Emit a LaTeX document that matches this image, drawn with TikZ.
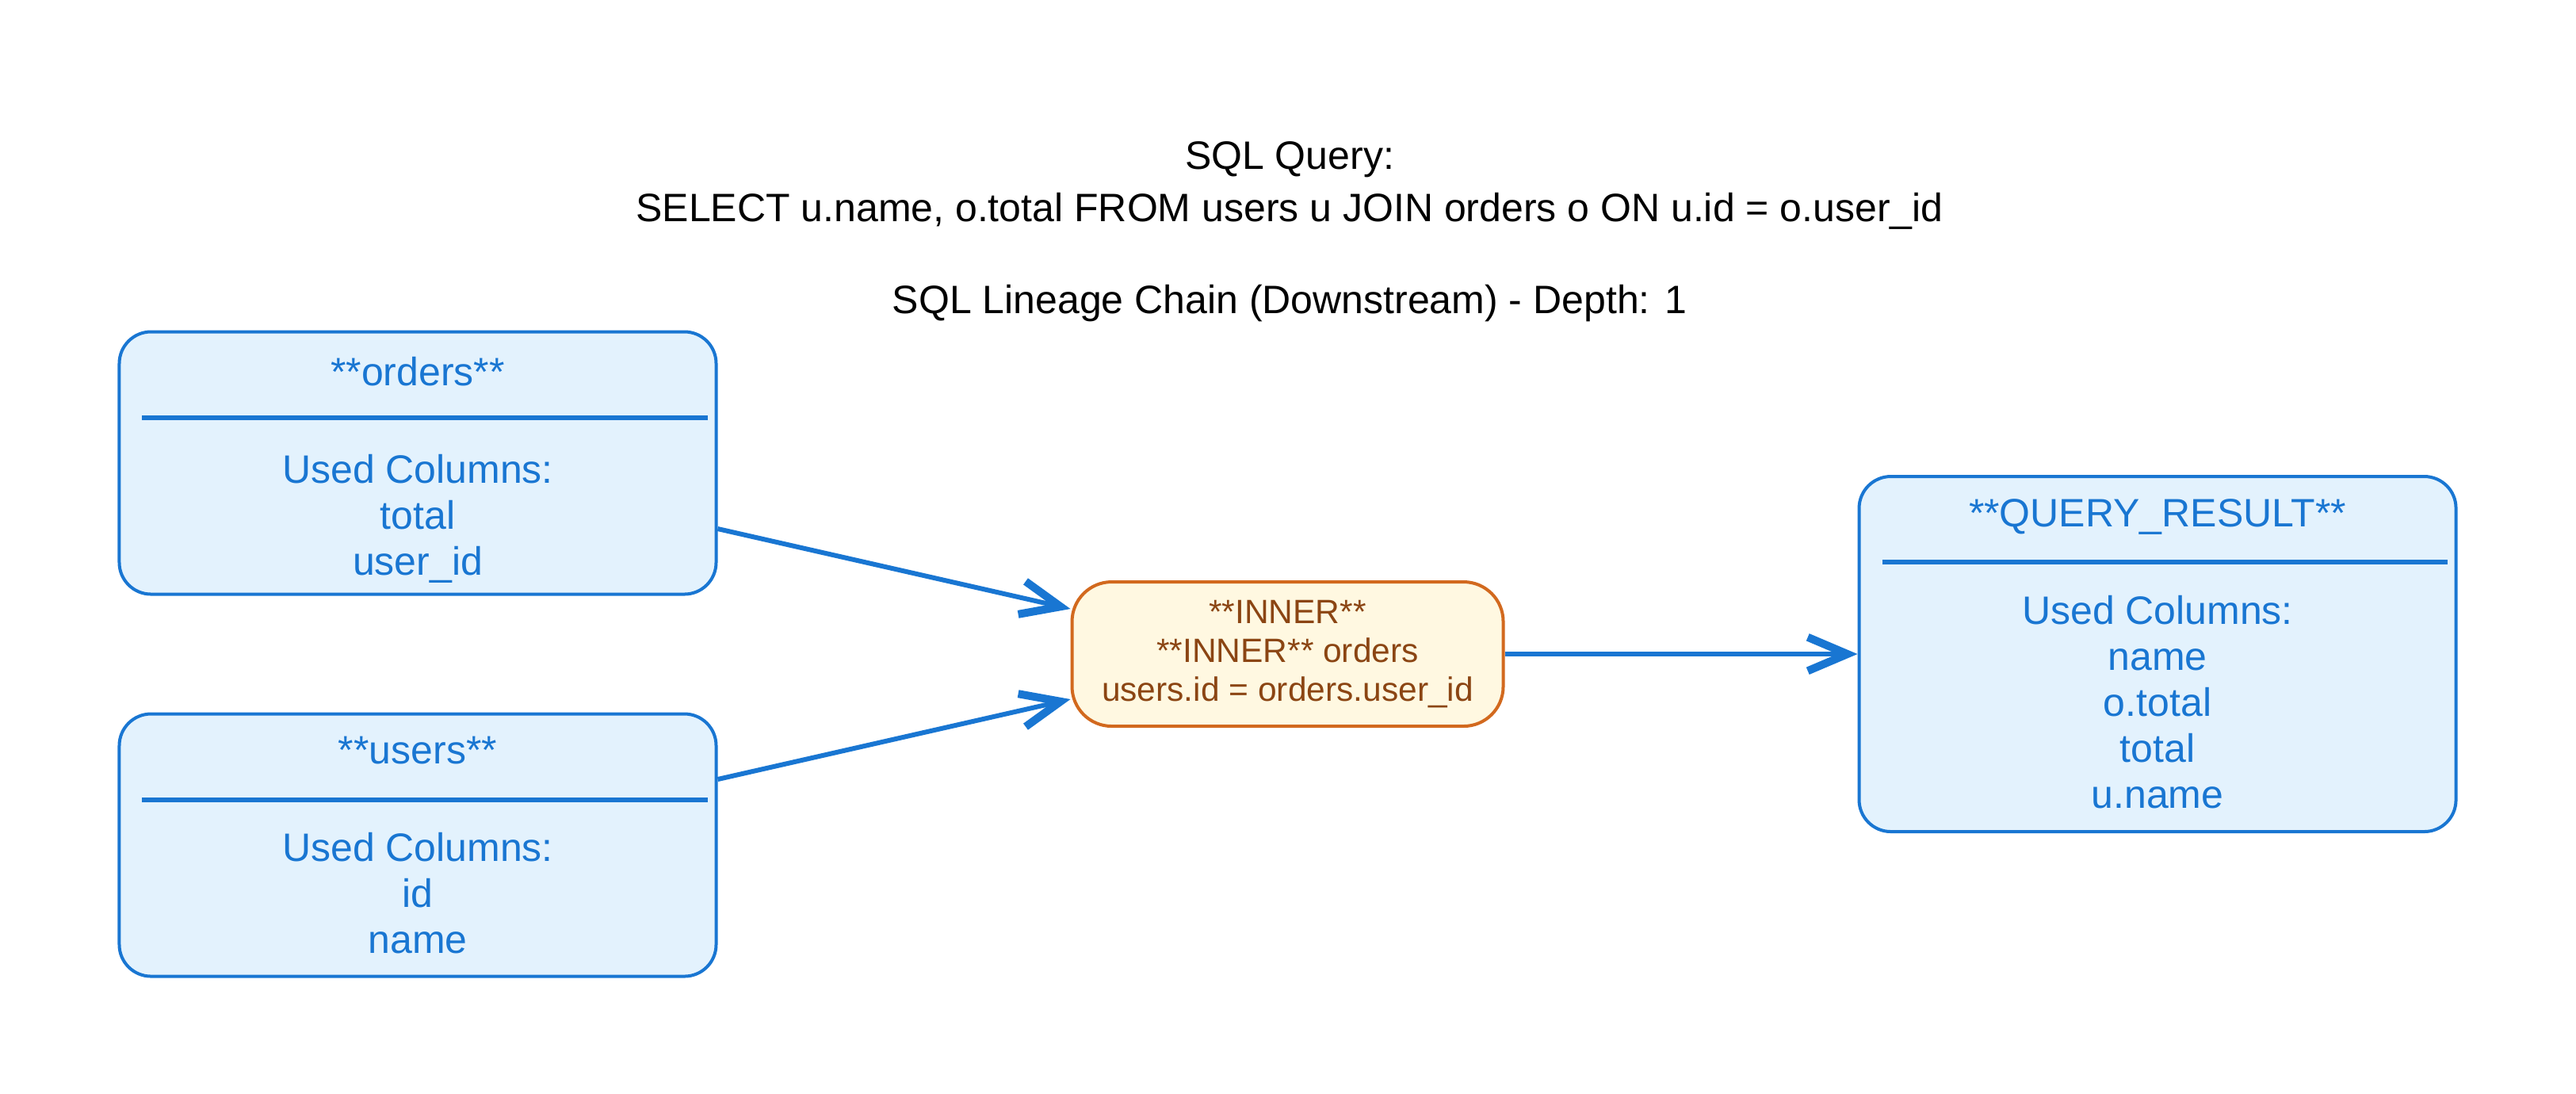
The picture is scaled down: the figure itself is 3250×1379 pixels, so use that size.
\documentclass[tikz,border=0pt]{standalone}
\usepackage{fontspec}
\setmainfont{Liberation Sans}
\usetikzlibrary{arrows.meta,positioning,calc}
\definecolor{lineblue}{HTML}{1976D2}
\definecolor{paleblue}{HTML}{E3F2FD}
\definecolor{rust}{HTML}{D2691E}
\definecolor{joinbrown}{HTML}{8B4513}
\definecolor{cream}{HTML}{FFF8E1}
\newcommand{\toprow}{\rule{0pt}{10.6pt}}
\tikzset{
  tbl/.style={draw=lineblue,line width=0.8pt,rounded corners=8pt,fill=paleblue,text=lineblue,align=center,minimum width=150.6pt,minimum height=66.2pt,inner sep=2pt,font=\fontsize{10}{11.6}\selectfont},
  joinbox/.style={draw=rust,line width=0.8pt,rounded corners=10pt,fill=cream,text=joinbrown,align=center,minimum width=108.8pt,minimum height=36.4pt,inner sep=2pt,font=\fontsize{8.5}{9.8}\selectfont},
  sep/.style={draw=lineblue,line width=1.2pt},
  arr/.style={-{Straight Barb[length=10pt,width=8.5pt,line width=2pt,line cap=butt,line join=miter]},line width=1.2pt,draw=lineblue}
}
\begin{document}
\begin{tikzpicture}[x=0.2pt,y=-0.2pt]
        \useasboundingbox (0,0) rectangle (3250,1379);
        \node[align=center,font=\fontsize{10}{11.6}\selectfont] (title) at (1627,292) {SQL Query:\\[1.6pt]SELECT u.name, o.total FROM users u JOIN orders o ON u.id = o.user\_id\\[11.6pt]SQL Lineage Chain (Downstream) - Depth: 1};
        \node[tbl] (orders) at (527,584) {\toprow**orders**\\[13pt]Used Columns:\\total\\user\_id};
        \node[tbl,below=29.4pt of orders] (users) {**users**\\[13pt]Used Columns:\\id\\name};
        \coordinate (mid) at ($(orders.east)!0.5!(users.east)$);
        \node[joinbox,right=89pt of mid] (inner) {**INNER**\\**INNER** orders\\users.id = orders.user\_id};
        \node[tbl,minimum height=89.6pt,right=89pt of inner] (result) {**QUERY\_RESULT**\\[13pt]Used Columns:\\name\\o.total\\total\\u.name};
        % separators under the table names
        \foreach \t in {orders,users,result}
          \draw[sep] ([xshift=6.2pt,yshift=-22pt]\t.north west) -- ([xshift=-2.6pt,yshift=-22pt]\t.north east);
        \draw[arr] ([yshift=-16.6pt]orders.east) -- ([yshift=11.4pt]inner.west);
        \draw[arr] ([yshift=16.6pt]users.east) -- ([yshift=-11.4pt]inner.west);
        \draw[arr] (inner.east) -- (result.west);
      \end{tikzpicture}
\end{document}
